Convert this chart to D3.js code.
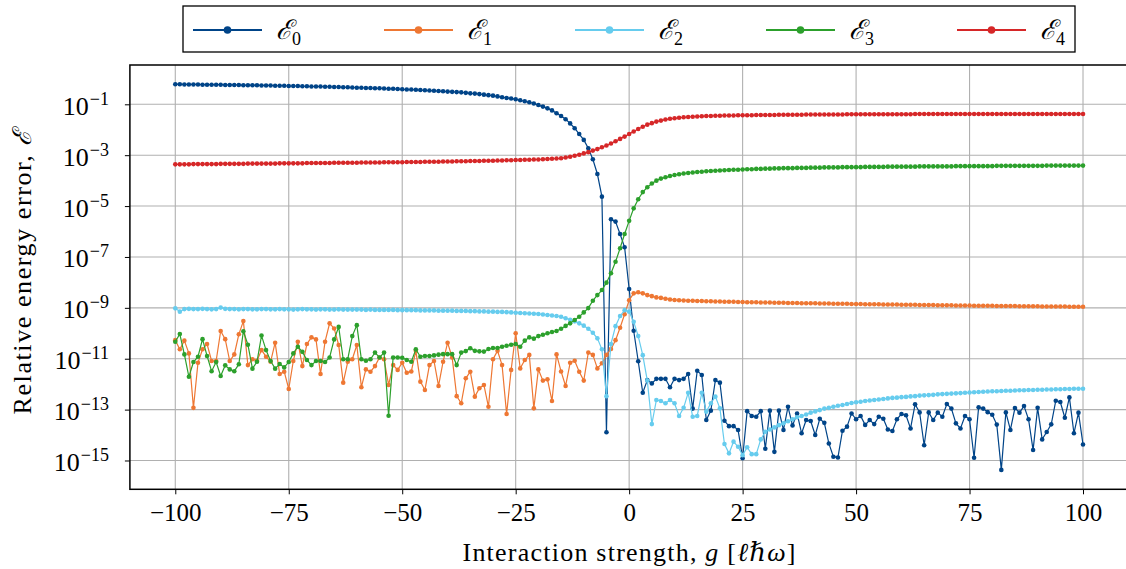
<!DOCTYPE html>
<html>
<head>
<meta charset="utf-8">
<script src="https://cdn.jsdelivr.net/npm/d3@7"></script>
<style>
  body { margin: 0; background: #fff; }
  svg { display: block; }
</style>
</head>
<body>
<div id="wrapper"></div>
<script>

// g values of the scan (one point per unit)
const gValues = d3.range(-100, 101)

// log10 of the relative energy error, g = -100 ... 100
const e0Log = [
  -0.21,-0.21,-0.22,-0.22,-0.22,-0.22,-0.23,-0.23,-0.23,-0.23,
  -0.23,-0.24,-0.24,-0.24,-0.24,-0.25,-0.25,-0.25,-0.25,-0.26,
  -0.26,-0.26,-0.27,-0.27,-0.27,-0.28,-0.28,-0.28,-0.29,-0.29,
  -0.30,-0.30,-0.30,-0.31,-0.31,-0.32,-0.32,-0.33,-0.33,-0.34,
  -0.35,-0.35,-0.36,-0.36,-0.37,-0.37,-0.38,-0.39,-0.39,-0.40,
  -0.41,-0.42,-0.42,-0.43,-0.44,-0.45,-0.46,-0.47,-0.48,-0.49,
  -0.50,-0.51,-0.52,-0.53,-0.55,-0.57,-0.58,-0.60,-0.62,-0.64,
  -0.66,-0.69,-0.72,-0.75,-0.77,-0.80,-0.84,-0.88,-0.92,-0.97,
  -1.03,-1.09,-1.16,-1.24,-1.35,-1.46,-1.59,-1.75,-1.94,-2.17,
  -2.40,-2.73,-3.16,-3.74,-4.63,-13.89,-5.52,-5.61,-6.10,-6.62,
  -8.26,-9.90,-11.10,-12.34,-11.84,-11.97,-11.79,-11.79,-11.79,-12.12,
  -11.79,-11.84,-11.79,-11.60,-12.96,-11.47,-11.64,-13.41,-13.04,-11.84,
  -11.94,-13.44,-13.65,-13.65,-13.80,-14.91,-13.06,-13.25,-13.28,-13.06,
  -14.54,-13.04,-14.66,-13.04,-13.80,-12.89,-13.62,-13.15,-13.93,-13.41,
  -13.45,-14.00,-13.36,-13.52,-14.33,-14.85,-14.88,-13.83,-13.67,-13.15,
  -13.38,-13.25,-13.60,-13.41,-13.57,-13.28,-13.36,-13.78,-13.84,-13.38,
  -13.17,-13.22,-13.74,-12.79,-13.11,-14.40,-13.11,-13.41,-13.12,-13.28,
  -12.78,-12.96,-13.54,-13.74,-13.25,-13.38,-14.89,-12.91,-12.96,-13.10,
  -13.20,-13.59,-15.37,-13.11,-13.80,-12.94,-13.12,-12.86,-13.38,-14.59,
  -12.93,-14.17,-13.88,-13.58,-12.65,-12.70,-13.32,-12.52,-13.93,-13.12,
  -14.37
]

const e1Log = [
  -10.27,-10.63,-10.29,-10.79,-12.93,-11.16,-10.63,-10.42,-11.09,-11.09,
  -9.91,-10.23,-11.09,-10.83,-10.04,-9.52,-11.25,-11.02,-11.08,-10.66,
  -10.92,-11.12,-10.37,-11.60,-11.51,-12.19,-11.09,-10.33,-11.29,-10.42,
  -10.16,-10.24,-11.60,-10.33,-9.61,-9.81,-10.46,-11.94,-11.12,-11.02,
  -10.46,-12.12,-11.42,-11.51,-11.29,-10.95,-11.02,-12.03,-11.25,-11.44,
  -11.16,-11.55,-11.50,-10.69,-11.90,-12.23,-11.25,-11.09,-12.07,-11.12,
  -10.37,-10.95,-12.47,-12.75,-11.77,-11.51,-12.49,-12.16,-12.03,-12.89,
  -11.02,-10.69,-11.25,-13.17,-11.44,-10.00,-11.38,-11.05,-10.85,-12.95,
  -11.42,-11.86,-11.81,-12.66,-10.83,-11.50,-12.07,-11.16,-11.08,-11.51,
  -11.86,-10.76,-10.85,-11.38,-11.18,-10.85,-10.62,-10.27,-9.78,-9.25,
  -8.70,-8.43,-8.39,-8.43,-8.50,-8.54,-8.59,-8.61,-8.64,-8.67,
  -8.69,-8.70,-8.71,-8.72,-8.72,-8.73,-8.73,-8.74,-8.74,-8.75,
  -8.75,-8.76,-8.76,-8.76,-8.77,-8.77,-8.78,-8.78,-8.78,-8.79,
  -8.79,-8.79,-8.80,-8.80,-8.80,-8.81,-8.81,-8.81,-8.82,-8.82,
  -8.82,-8.82,-8.83,-8.83,-8.83,-8.84,-8.84,-8.84,-8.84,-8.85,
  -8.85,-8.85,-8.86,-8.86,-8.86,-8.86,-8.87,-8.87,-8.87,-8.87,
  -8.88,-8.88,-8.88,-8.88,-8.89,-8.89,-8.89,-8.89,-8.90,-8.90,
  -8.90,-8.90,-8.91,-8.91,-8.91,-8.91,-8.92,-8.92,-8.92,-8.92,
  -8.92,-8.93,-8.93,-8.93,-8.93,-8.93,-8.94,-8.94,-8.94,-8.94,
  -8.94,-8.95,-8.95,-8.95,-8.95,-8.95,-8.95,-8.96,-8.96,-8.96,
  -8.96
]

const e2Log = [
  -9.02,-9.15,-9.05,-9.04,-9.05,-9.05,-9.04,-9.05,-9.06,-9.05,
  -8.99,-9.04,-9.05,-9.05,-9.06,-9.05,-9.05,-9.06,-9.06,-9.05,
  -9.05,-9.06,-9.06,-9.05,-9.06,-9.06,-9.07,-9.06,-9.05,-9.06,
  -9.06,-9.07,-9.06,-9.06,-9.07,-9.07,-9.06,-9.07,-9.07,-9.07,
  -9.07,-9.07,-9.08,-9.07,-9.08,-9.08,-9.08,-9.08,-9.08,-9.09,
  -9.09,-9.09,-9.09,-9.09,-9.10,-9.10,-9.10,-9.10,-9.11,-9.11,
  -9.11,-9.11,-9.12,-9.12,-9.12,-9.13,-9.13,-9.14,-9.14,-9.15,
  -9.15,-9.16,-9.16,-9.17,-9.18,-9.19,-9.20,-9.21,-9.22,-9.23,
  -9.24,-9.26,-9.28,-9.30,-9.32,-9.35,-9.41,-9.47,-9.53,-9.61,
  -9.70,-9.82,-9.98,-10.20,-10.63,-12.47,-10.42,-9.72,-9.32,-9.09,
  -9.15,-9.55,-10.11,-10.86,-11.86,-13.57,-12.62,-12.66,-12.75,-12.62,
  -12.75,-13.25,-12.93,-12.34,-13.28,-13.25,-12.34,-13.08,-12.75,-12.49,
  -12.95,-14.35,-14.72,-14.26,-14.46,-14.79,-14.48,-14.75,-14.75,-14.17,
  -13.87,-13.78,-13.70,-13.61,-13.54,-13.46,-13.38,-13.30,-13.25,-13.19,
  -13.12,-13.07,-13.02,-12.96,-12.93,-12.89,-12.85,-12.82,-12.78,-12.74,
  -12.71,-12.69,-12.66,-12.64,-12.62,-12.60,-12.58,-12.56,-12.54,-12.53,
  -12.51,-12.50,-12.48,-12.47,-12.45,-12.44,-12.43,-12.42,-12.40,-12.39,
  -12.38,-12.37,-12.36,-12.35,-12.34,-12.33,-12.32,-12.31,-12.30,-12.29,
  -12.28,-12.28,-12.27,-12.26,-12.26,-12.25,-12.24,-12.24,-12.23,-12.23,
  -12.22,-12.22,-12.21,-12.21,-12.20,-12.20,-12.19,-12.19,-12.18,-12.18,
  -12.18
]

const e3Log = [
  -10.33,-10.03,-10.83,-11.71,-11.13,-10.92,-10.23,-10.89,-11.49,-11.13,
  -11.68,-11.26,-11.42,-11.49,-11.22,-9.92,-10.45,-11.39,-11.12,-10.09,
  -10.66,-11.09,-11.39,-11.21,-11.34,-11.13,-10.79,-10.53,-10.73,-11.05,
  -11.25,-11.09,-11.09,-11.13,-10.95,-10.24,-9.75,-11.02,-11.02,-10.11,
  -9.68,-11.02,-11.08,-11.02,-10.76,-10.95,-10.76,-13.24,-10.95,-10.95,
  -10.96,-11.05,-11.12,-10.63,-10.92,-10.89,-10.89,-10.87,-10.84,-10.82,
  -10.82,-10.82,-11.25,-10.76,-10.70,-10.59,-10.69,-10.71,-10.72,-10.62,
  -10.58,-10.58,-10.53,-10.49,-10.45,-10.42,-10.53,-10.29,-10.16,-10.21,
  -10.11,-10.06,-10.00,-9.95,-9.91,-9.82,-9.71,-9.61,-9.48,-9.35,
  -9.18,-9.01,-8.72,-8.50,-8.30,-8.01,-7.64,-7.19,-6.66,-6.10,
  -5.58,-5.09,-4.73,-4.45,-4.26,-4.11,-4.00,-3.92,-3.87,-3.82,
  -3.78,-3.75,-3.72,-3.70,-3.68,-3.66,-3.65,-3.63,-3.62,-3.61,
  -3.60,-3.59,-3.58,-3.57,-3.57,-3.56,-3.55,-3.55,-3.54,-3.54,
  -3.53,-3.53,-3.52,-3.52,-3.51,-3.51,-3.51,-3.50,-3.50,-3.50,
  -3.49,-3.49,-3.49,-3.48,-3.48,-3.48,-3.48,-3.47,-3.47,-3.47,
  -3.47,-3.47,-3.46,-3.46,-3.46,-3.46,-3.46,-3.45,-3.45,-3.45,
  -3.45,-3.45,-3.45,-3.45,-3.44,-3.44,-3.44,-3.44,-3.44,-3.44,
  -3.44,-3.44,-3.43,-3.43,-3.43,-3.43,-3.43,-3.43,-3.43,-3.43,
  -3.43,-3.42,-3.42,-3.42,-3.42,-3.42,-3.42,-3.42,-3.42,-3.42,
  -3.42,-3.42,-3.41,-3.41,-3.41,-3.41,-3.41,-3.41,-3.41,-3.41,
  -3.41
]

const e4Log = [
  -3.36,-3.36,-3.36,-3.36,-3.35,-3.35,-3.35,-3.35,-3.35,-3.35,
  -3.34,-3.34,-3.34,-3.34,-3.34,-3.34,-3.33,-3.33,-3.33,-3.33,
  -3.33,-3.33,-3.33,-3.32,-3.32,-3.32,-3.32,-3.32,-3.32,-3.31,
  -3.31,-3.31,-3.31,-3.31,-3.31,-3.30,-3.30,-3.30,-3.30,-3.30,
  -3.30,-3.29,-3.29,-3.29,-3.29,-3.29,-3.28,-3.28,-3.28,-3.28,
  -3.28,-3.27,-3.27,-3.27,-3.27,-3.26,-3.26,-3.26,-3.26,-3.25,
  -3.25,-3.25,-3.24,-3.24,-3.24,-3.23,-3.23,-3.23,-3.22,-3.22,
  -3.22,-3.21,-3.21,-3.20,-3.20,-3.19,-3.19,-3.18,-3.18,-3.17,
  -3.17,-3.16,-3.15,-3.14,-3.13,-3.12,-3.09,-3.06,-3.02,-2.98,
  -2.93,-2.88,-2.82,-2.76,-2.69,-2.62,-2.54,-2.45,-2.36,-2.27,
  -2.17,-2.07,-1.97,-1.88,-1.80,-1.74,-1.68,-1.64,-1.60,-1.57,
  -1.55,-1.53,-1.51,-1.50,-1.49,-1.48,-1.47,-1.46,-1.46,-1.45,
  -1.45,-1.44,-1.44,-1.44,-1.43,-1.43,-1.43,-1.43,-1.42,-1.42,
  -1.42,-1.42,-1.42,-1.41,-1.41,-1.41,-1.41,-1.41,-1.41,-1.40,
  -1.40,-1.40,-1.40,-1.40,-1.40,-1.40,-1.40,-1.40,-1.39,-1.39,
  -1.39,-1.39,-1.39,-1.39,-1.39,-1.39,-1.39,-1.39,-1.39,-1.39,
  -1.39,-1.39,-1.39,-1.38,-1.38,-1.38,-1.38,-1.38,-1.38,-1.38,
  -1.38,-1.38,-1.38,-1.38,-1.38,-1.38,-1.38,-1.38,-1.38,-1.38,
  -1.38,-1.38,-1.38,-1.38,-1.38,-1.38,-1.38,-1.38,-1.38,-1.38,
  -1.38,-1.38,-1.38,-1.38,-1.38,-1.38,-1.38,-1.38,-1.38,-1.38,
  -1.38
]

const seriesLogs = [e0Log, e1Log, e2Log, e3Log, e4Log]
const seriesIndex = ["0", "1", "2", "3", "4"]
const seriesColors = ["#004488", "#ee7733", "#66ccee", "#2ca02c", "#d62728"]

const xTicks = [-100, -75, -50, -25, 0, 25, 50, 75, 100]
const yTickExponents = [-1, -3, -5, -7, -9, -11, -13, -15]

const font = "'Liberation Serif', 'DejaVu Serif', serif"

// 1. dimensions
let dimensions = {
  width: 1126,
  height: 569,
  margin: { top: 65, left: 129.9, right: -2.4, bottom: 79.7 },
}
dimensions.boundedWidth = dimensions.width - dimensions.margin.left - dimensions.margin.right
dimensions.boundedHeight = dimensions.height - dimensions.margin.top - dimensions.margin.bottom

const wrapper = d3.select("#wrapper")
  .append("svg")
  .attr("width", dimensions.width)
  .attr("height", dimensions.height)
  .style("font-family", font)

const bounds = wrapper.append("g")
  .attr("transform", `translate(${dimensions.margin.left}, ${dimensions.margin.top})`)

// 2. scales
const xScale = d3.scaleLinear()
  .domain([-110, 110])
  .range([0, dimensions.boundedWidth])

const yScale = d3.scaleLog()
  .domain([10 ** 0.5446, 10 ** -16.132])
  .range([0, dimensions.boundedHeight])

// 3. grid
bounds.append("g")
  .selectAll("line")
  .data(xTicks)
  .enter().append("line")
  .attr("x1", d => xScale(d)).attr("x2", d => xScale(d))
  .attr("y1", 0).attr("y2", dimensions.boundedHeight)
  .attr("stroke", "#b0b0b0").attr("stroke-width", 1.1)

bounds.append("g")
  .selectAll("line")
  .data(yTickExponents)
  .enter().append("line")
  .attr("y1", d => yScale(10 ** d)).attr("y2", d => yScale(10 ** d))
  .attr("x1", 0).attr("x2", dimensions.boundedWidth)
  .attr("stroke", "#b0b0b0").attr("stroke-width", 1.1)

// 4. series
const line = d3.line()
  .x((d, i) => xScale(gValues[i]))
  .y(d => yScale(10 ** d))

seriesLogs.forEach((vals, k) => {
  const g = bounds.append("g")
  g.append("path")
    .datum(vals)
    .attr("d", line)
    .attr("fill", "none")
    .attr("stroke", seriesColors[k])
    .attr("stroke-width", 1.2)
  g.selectAll("circle")
    .data(vals)
    .enter().append("circle")
    .attr("cx", (d, i) => xScale(gValues[i]))
    .attr("cy", d => yScale(10 ** d))
    .attr("r", 2.3)
    .attr("fill", seriesColors[k])
})

// 5. axes
const xAxis = d3.axisBottom(xScale)
  .tickValues(xTicks)
  .tickSize(5)
  .tickPadding(9)
  .tickFormat(d => d < 0 ? "\u2212" + Math.abs(d) : d)

const xAxisGroup = bounds.append("g")
  .attr("transform", `translate(0, ${dimensions.boundedHeight})`)
  .call(xAxis)
xAxisGroup.select(".domain").remove()
xAxisGroup.selectAll("line").attr("stroke", "#000").attr("stroke-width", 1)
xAxisGroup.selectAll("text")
  .attr("fill", "#000")
  .style("font-family", font)
  .style("font-size", "25px")

const yAxis = d3.axisLeft(yScale)
  .tickValues(yTickExponents.map(e => 10 ** e))
  .tickSize(5)
  .tickFormat("")

const yAxisGroup = bounds.append("g").call(yAxis)
yAxisGroup.select(".domain").remove()
yAxisGroup.selectAll("line").attr("stroke", "#000").attr("stroke-width", 1)
yAxisGroup.selectAll(".tick").each(function(d, i) {
  const t = d3.select(this).append("text")
    .attr("x", -21)
    .attr("y", 10)
    .attr("text-anchor", "end")
    .attr("fill", "#000")
    .style("font-family", font)
    .style("font-size", "26px")
  t.append("tspan").text("10")
  t.append("tspan")
    .attr("dy", -10)
    .attr("dx", 1)
    .style("font-size", "18px")
    .text("\u2212" + Math.abs(yTickExponents[i]))
})

// frame
bounds.append("rect")
  .attr("width", dimensions.boundedWidth)
  .attr("height", dimensions.boundedHeight)
  .attr("fill", "none")
  .attr("stroke", "#000")
  .attr("stroke-width", 1.5)

// 6. labels
wrapper.append("text")
  .attr("x", 629)
  .attr("y", 561)
  .attr("text-anchor", "middle")
  .attr("textLength", 333)
  .attr("lengthAdjust", "spacing")
  .style("font-size", "26px")
  .html("Interaction strength, <tspan font-style='italic'>g</tspan> [<tspan font-style='italic'>\u2113\u210F\u03C9</tspan>]")

wrapper.append("text")
  .attr("transform", "translate(31, 272) rotate(-90)")
  .attr("text-anchor", "middle")
  .attr("textLength", 285)
  .attr("lengthAdjust", "spacing")
  .style("font-size", "26px")
  .html("Relative energy error, <tspan font-style='italic'>\u2130</tspan>")

// 7. legend
const legend = wrapper.append("g")
legend.append("rect")
  .attr("x", 183).attr("y", 6)
  .attr("width", 892).attr("height", 46)
  .attr("fill", "#fff")
  .attr("stroke", "#000")
  .attr("stroke-width", 1.3)

seriesColors.forEach((c, k) => {
  const x0 = 193 + k * 191
  const item = legend.append("g").attr("transform", `translate(${x0}, 30)`)
  item.append("line")
    .attr("x1", 0).attr("x2", 69)
    .attr("stroke", c).attr("stroke-width", 2.2)
  item.append("circle")
    .attr("cx", 34.5).attr("r", 3.8).attr("fill", c)
  const t = item.append("text")
    .attr("x", 83).attr("y", 9)
    .style("font-size", "27px")
  t.append("tspan").attr("font-style", "italic").text("\u2130")
  t.append("tspan").attr("dy", 6).style("font-size", "18px").text(seriesIndex[k])
})

</script>
</body>
</html>
